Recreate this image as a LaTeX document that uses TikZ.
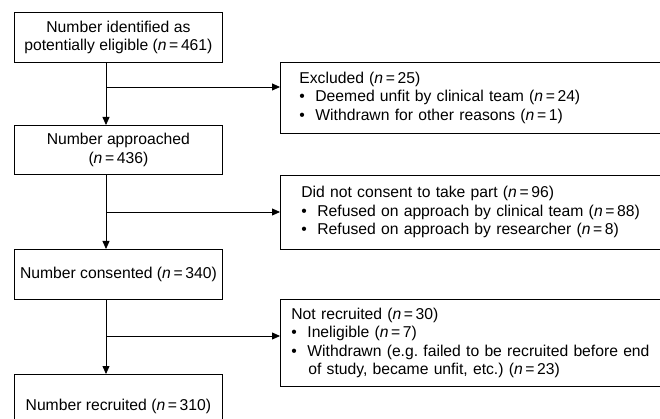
\documentclass[tikz,border=0pt]{standalone}
\usepackage{fontspec}
\setmainfont{Liberation Sans}
\usetikzlibrary{arrows.meta}
\newcommand{\nval}[1]{(\textit{n}\,=\,#1)}
\newcommand{\bitem}[1]{\makebox[16pt][l]{\textbullet}#1}
\tikzset{
  lbox/.style={draw, line width=0.8pt, minimum width=208pt, minimum height=50pt, align=center, anchor=north west, inner sep=2pt, font=\fontsize{15.7}{18.5}\selectfont},
  rbox/.style={draw, line width=0.8pt, anchor=north west, align=left, font=\fontsize{15.7}{18.5}\selectfont},
  arr/.style={line width=0.8pt, -{Triangle[length=8pt,width=7pt]}},
}
\begin{document}
\begin{tikzpicture}[x=1pt,y=-1pt]
\useasboundingbox (0,0) rectangle (660,419);
\clip (0,0) rectangle (660,419);
\node[lbox] (b1) at (14,12) {Number identified as\\potentially eligible \nval{461}};
\node[lbox, minimum height=49pt] (b2) at (14,125) {Number approached\\\nval{436}};
\node[lbox] (b3) at (14,249) {Number consented \nval{340}};
\node[lbox, minimum height=64pt] (b4) at (14,374) {Number recruited \nval{310}};

\node[rbox, minimum width=400pt, minimum height=71pt, text width=362pt, inner xsep=19pt] (ex) at (280,62)
 {Excluded \nval{25}\\ \bitem{Deemed unfit by clinical team \nval{24}}\\ \bitem{Withdrawn for other reasons \nval{1}}};
\node[rbox, minimum width=400pt, minimum height=74pt, text width=358pt, inner xsep=21pt] (dc) at (280,175)
 {Did not consent to take part \nval{96}\\ \bitem{Refused on approach by clinical team \nval{88}}\\ \bitem{Refused on approach by researcher \nval{8}}};
\node[rbox, minimum width=400pt, minimum height=87pt, text width=378pt, inner xsep=11pt] (nr) at (280,299)
 {Not recruited \nval{30}\\ \bitem{Ineligible \nval{7}}\\ \bitem{Withdrawn (e.g.\ failed to be recruited before end}\\ \hspace*{17pt}of study, became unfit, etc.)\ \nval{23}};

\coordinate (j1) at (106,87);
\coordinate (j2) at (106,212);
\coordinate (j3) at (106,336);
\draw[arr] (b1.south -| j1) -- (b2.north -| j1);
\draw[arr] (j1) -- (j1 -| ex.west);
\draw[arr] (b2.south -| j2) -- (b3.north -| j2);
\draw[arr] (j2) -- (j2 -| dc.west);
\draw[arr] (b3.south -| j3) -- (b4.north -| j3);
\draw[arr] (j3) -- (j3 -| nr.west);
\end{tikzpicture}
\end{document}
